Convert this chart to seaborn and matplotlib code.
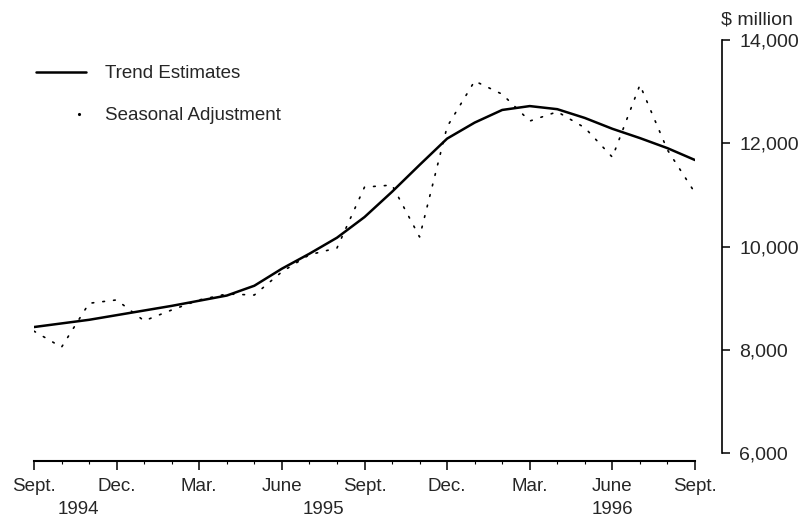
import matplotlib
matplotlib.use("Agg")
import matplotlib.pyplot as plt
from matplotlib.lines import Line2D
from matplotlib.legend_handler import HandlerLine2D
from matplotlib.ticker import FixedLocator, FuncFormatter
import seaborn as sns
import pandas as pd

# ---- data ----
month_index = list(range(25))  # Sept 1994 .. Sept 1996, monthly
trend = [8440, 8510, 8580, 8670, 8760, 8850, 8950, 9050, 9240, 9570,
         9860, 10170, 10570, 11060, 11580, 12090, 12400, 12645, 12720,
         12660, 12490, 12280, 12100, 11905, 11675]
seasonal = [8360, 8050, 8900, 8965, 8560, 8770, 8965, 9080, 9060, 9510,
            9840, 9970, 11150, 11190, 10185, 12320, 13205, 12950, 12430,
            12610, 12300, 11730, 13130, 11870, 11040]
quarter_labels = ["Sept.", "Dec.", "Mar.", "June", "Sept.", "Dec.", "Mar.", "June", "Sept."]
years = ["1994", "1995", "1996"]
year_pos = [1.6, 10.5, 21.0]
y_ticks = [6000, 8000, 10000, 12000, 14000]

df = pd.DataFrame({"month": month_index, "trend": trend, "seasonal": seasonal})

sns.set_style("white")
plt.rcParams["font.family"] = ["Liberation Sans", "DejaVu Sans"]
FS = 13.5
FSY = 14

fig = plt.figure(figsize=(8.1, 5.21), dpi=100)
ax = fig.add_axes([34 / 810, 1 - 461 / 521, (695 - 34) / 810, (461 - 40) / 521])

sns.lineplot(data=df, x="month", y="seasonal", ax=ax, color="black",
             linewidth=1.2, linestyle=(0, (1, 5.5)), dash_capstyle="round")
sns.lineplot(data=df, x="month", y="trend", ax=ax, color="black",
             linewidth=1.8)

ax.set_xlim(0, 24)
ax.set_ylim(6000 - 8 * 19.37, 14000)
ax.set_xlabel("")
ax.set_ylabel("")

# spines
for s in ["left", "top"]:
    ax.spines[s].set_visible(False)
ax.spines["bottom"].set_linewidth(1.5)
ax.spines["bottom"].set_color("black")
ax.spines["right"].set_visible(True)
ax.spines["right"].set_color("black")
ax.spines["right"].set_linewidth(1.2)
ax.spines["right"].set_position(("outward", 27 * 0.72))
ax.spines["right"].set_bounds(6000, 14000)

# x ticks
ax.xaxis.set_major_locator(FixedLocator(list(range(0, 25, 3))))
ax.xaxis.set_minor_locator(FixedLocator(month_index))
ax.set_xticklabels(quarter_labels, fontsize=FS)
ax.tick_params(axis="x", which="major", direction="out", length=6.5, width=1.1,
               color="black", pad=6, bottom=True)
ax.tick_params(axis="x", which="minor", direction="out", length=2.5, width=0.8,
               color="black", bottom=True)

# y ticks on right
ax.yaxis.tick_right()
ax.set_yticks(y_ticks)
ax.yaxis.set_major_formatter(FuncFormatter(lambda v, p: f"{int(v):,}"))
ax.tick_params(axis="y", which="major", direction="out", length=5.8, width=1.1,
               color="black", pad=6.5, labelsize=FSY, right=True, left=False)

# year labels
for yr, xp in zip(years, year_pos):
    ax.annotate(yr, xy=(xp, 0), xycoords=("data", "axes fraction"),
                xytext=(0, -35), textcoords="offset points",
                ha="center", va="center", fontsize=FS)

# unit label
fig.text(721 / 810, 1 - 20 / 521, "\\$ million", ha="left", va="center", fontsize=FSY)


# legend: dot drawn towards right end of handle, like the original
class RightDotHandler(HandlerLine2D):
    def get_xdata(self, legend, xdescent, ydescent, width, height, fontsize):
        m = -xdescent + 0.86 * width
        return [m, m], [m]


dot_handle = Line2D([], [], color="black", linestyle="none", marker=".", markersize=2.5)
handles = [Line2D([], [], color="black", linewidth=1.8), dot_handle]
leg = ax.legend(handles, ["Trend Estimates", "Seasonal Adjustment"],
                loc="upper left", bbox_to_anchor=(36 / 810, 1 - 65 / 521),
                bbox_transform=fig.transFigure, frameon=False, fontsize=FS,
                handlelength=2.67, handletextpad=1.0, labelspacing=1.33,
                borderaxespad=0, borderpad=0, numpoints=1,
                handler_map={dot_handle: RightDotHandler(numpoints=1)})

fig.savefig("out.png", dpi=100)
